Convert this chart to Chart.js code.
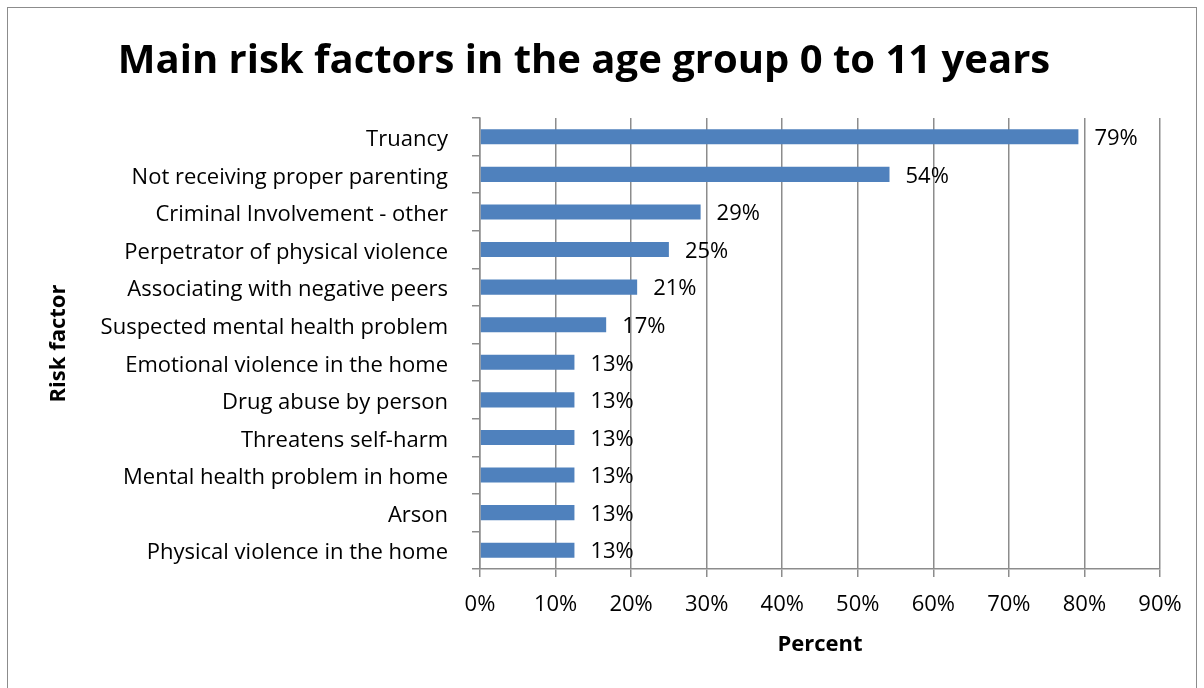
<!DOCTYPE html>
<html>
<head>
<meta charset="utf-8">
<script src="https://cdn.jsdelivr.net/npm/chart.js@4/dist/chart.umd.min.js"></script>
<style>
  html, body { margin: 0; padding: 0; background: #fff; }
  #wrap { width: 1204px; height: 688px; position: relative; }
</style>
</head>
<body>
<div id="wrap"><canvas id="c" width="1204" height="688"></canvas></div>
<script>
const categories = [
  "Truancy",
  "Not receiving proper parenting",
  "Criminal Involvement - other",
  "Perpetrator of physical violence",
  "Associating with negative peers",
  "Suspected mental health problem",
  "Emotional violence in the home",
  "Drug abuse by person",
  "Threatens self-harm",
  "Mental health problem in home",
  "Arson",
  "Physical violence in the home"
];
const percentValues = [79.2, 54.2, 29.2, 25.0, 20.8, 16.7, 12.5, 12.5, 12.5, 12.5, 12.5, 12.5];
const xTickValues = [0, 10, 20, 30, 40, 50, 60, 70, 80, 90];

const FONT = "'Open Sans', Lato, sans-serif";
const GRID = '#8c8c8c';
const LABEL_SIZE = 22;

const frame = {
  id: 'frame',
  beforeDraw(chart) {
    const ctx = chart.ctx;
    ctx.save();
    ctx.fillStyle = '#fff';
    ctx.fillRect(0, 0, chart.width, chart.height);
    ctx.strokeStyle = '#8c8c8c';
    ctx.lineWidth = 1;
    ctx.strokeRect(7.5, 7.5, 1189, 700);
    ctx.restore();
  }
};

const valueLabels = {
  id: 'valueLabels',
  afterDatasetsDraw(chart) {
    const ctx = chart.ctx;
    const meta = chart.getDatasetMeta(0);
    ctx.save();
    ctx.font = LABEL_SIZE + "px " + FONT;
    ctx.fillStyle = '#000';
    ctx.textAlign = 'left';
    ctx.textBaseline = 'middle';
    meta.data.forEach((bar, i) => {
      ctx.fillText(Math.round(percentValues[i]) + '%', bar.x + 16, bar.y + 2);
    });
    ctx.restore();
  }
};

new Chart(document.getElementById('c'), {
  type: 'bar',
  data: {
    labels: categories,
    datasets: [{
      data: percentValues,
      backgroundColor: '#4f81bd',
      borderWidth: 0,
      barPercentage: 0.4,
      categoryPercentage: 1.0
    }]
  },
  options: {
    indexAxis: 'y',
    responsive: false,
    animation: false,
    layout: { padding: { left: 8, right: 44, top: 20, bottom: 0 } },
    plugins: {
      legend: { display: false },
      tooltip: { enabled: false },
      title: {
        display: true,
        text: 'Main risk factors in the age group 0 to 11 years',
        color: '#000',
        font: { family: FONT, size: 40, weight: 'bold', lineHeight: 1.2 },
        padding: { top: 18, bottom: 32 }
      }
    },
    scales: {
      x: {
        type: 'linear',
        min: 0,
        max: 90,
        afterBuildTicks(scale) { scale.ticks = xTickValues.map(v => ({ value: v })); },
        afterFit(scale) { scale.height = 688 - 569; },
        ticks: {
          color: '#000',
          font: { family: FONT, size: LABEL_SIZE },
          padding: 15,
          maxRotation: 0,
          callback: v => v + '%'
        },
        grid: { color: GRID, lineWidth: 1.5, tickLength: 8, drawTicks: true },
        border: { display: true, color: GRID, width: 1.5 },
        title: {
          display: true,
          text: 'Percent',
          color: '#000',
          font: { family: FONT, size: LABEL_SIZE, weight: 'bold', lineHeight: 1.2 },
          padding: { top: 0, bottom: 30 }
        }
      },
      y: {
        afterFit(scale) { scale.width = 480 - 8; },
        ticks: {
          color: '#000',
          font: { family: FONT, size: LABEL_SIZE },
          padding: 24,
          labelOffset: 3,
          autoSkip: false
        },
        grid: { offset: true, drawOnChartArea: false, drawTicks: true, tickLength: 8, color: GRID, lineWidth: 1.5 },
        border: { display: true, color: GRID, width: 1.5 },
        title: {
          display: true,
          text: 'Risk factor',
          color: '#000',
          font: { family: FONT, size: LABEL_SIZE, weight: 'bold', lineHeight: 1.2 },
          padding: { top: 38, bottom: 0 }
        }
      }
    }
  },
  plugins: [frame, valueLabels]
});
</script>
</body>
</html>
